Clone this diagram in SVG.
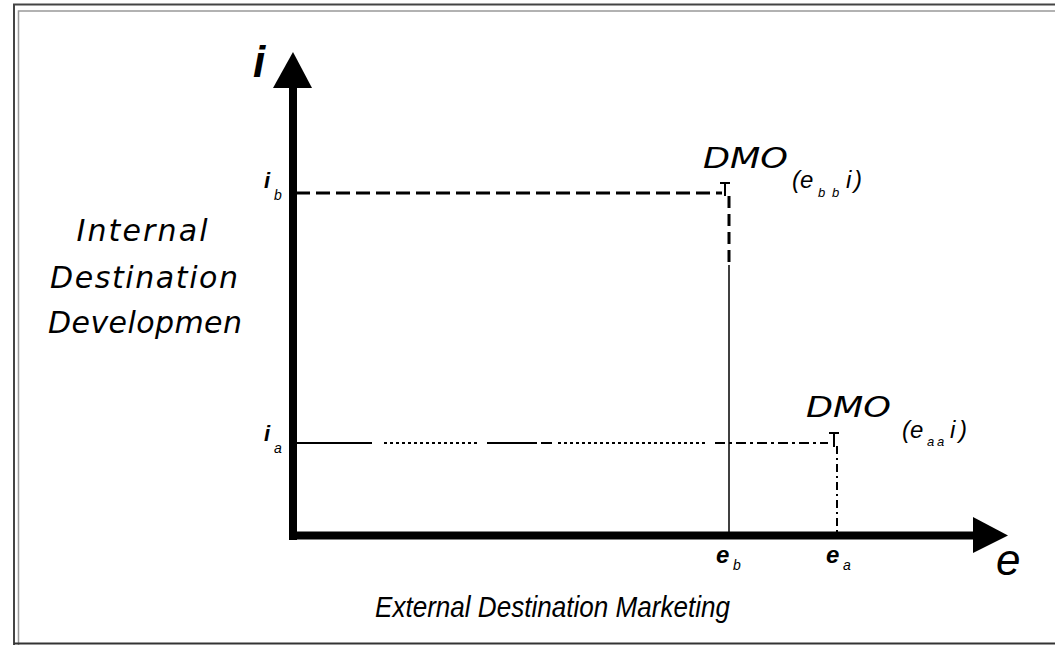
<svg xmlns="http://www.w3.org/2000/svg" width="1055" height="645" viewBox="0 0 1055 645">
<style>
.t{font-family:"Liberation Sans",Arial,sans-serif;font-style:italic;fill:#000}
.d{font-family:"DejaVu Sans","Liberation Sans",sans-serif;font-style:italic;fill:#000}
.ax{stroke:#000;stroke-width:8;fill:none}
.ln{stroke:#000;fill:none}
</style>
<rect width="1055" height="645" fill="#fff"/>
<g id="frame" fill="none">
<path d="M14,645 V4.5 H1055" stroke="#444" stroke-width="2"/>
<path d="M18.5,645 V11 H1055" stroke="#999" stroke-width="1.5"/>
<path d="M14,643.5 H1055" stroke="#333" stroke-width="2"/>
</g>
<g id="connectors">
<line class="ln" x1="296" y1="193" x2="722" y2="193" stroke-width="3" stroke-dasharray="14,6"/>
<line class="ln" x1="729" y1="196" x2="729" y2="265" stroke-width="3" stroke-dasharray="12,6"/>
<line class="ln" x1="729" y1="265" x2="729" y2="536" stroke-width="1.5"/>
<path class="ln" d="M720,183 H730 M725,183 V196" stroke-width="2"/>
<path class="ln" d="M297,443 H372 M487,443 H537 M541,443 H552" stroke-width="2"/>
<path class="ln" d="M384,443 H480 M558,443 H707" stroke-width="2" stroke-dasharray="3,3"/>
<path class="ln" d="M715,443 H828" stroke-width="2" stroke-dasharray="10,4,3,4"/>
<line class="ln" x1="837" y1="446" x2="837" y2="536" stroke-width="2" stroke-dasharray="8,4,2,4"/>
<path class="ln" d="M829,433 H839 M834,433 V447" stroke-width="2"/>
</g>
<g id="axes">
<line class="ax" x1="293" y1="540" x2="293" y2="88"/>
<path d="M273,88 L293,52 L312,88 Z" fill="#000"/>
<line class="ax" x1="289" y1="535.5" x2="974" y2="535.5"/>
<path d="M973,517 L1008,535.5 L973,553 Z" fill="#000"/>
</g>
<g id="labels">
<text class="t" x="253" y="77" font-size="44" font-weight="bold">i</text>
<text class="t" x="996" y="575" font-size="44">e</text>
<text class="t" x="264" y="188" font-size="22" font-weight="bold">i</text><text class="t" x="274" y="200" font-size="14">b</text>
<text class="t" x="264" y="441" font-size="22" font-weight="bold">i</text><text class="t" x="274" y="453" font-size="14">a</text>
<text class="t" x="716" y="563" font-size="24" font-weight="bold">e</text><text class="t" x="733" y="570" font-size="14">b</text>
<text class="t" x="826" y="563" font-size="24" font-weight="bold">e</text><text class="t" x="843" y="570" font-size="14">a</text>
<g id="dmo_b">
<text class="d" x="703" y="168" font-size="29" textLength="85" lengthAdjust="spacingAndGlyphs">DMO</text>
<text class="t" x="792" y="188" font-size="24">(e</text>
<text class="t" x="818" y="197" font-size="13">b</text><text class="t" x="832" y="197" font-size="13">b</text>
<text class="t" x="846" y="188" font-size="24">i</text><text class="t" x="854" y="188" font-size="24">)</text>
</g>
<g id="dmo_a">
<text class="d" x="806" y="417" font-size="29" textLength="85" lengthAdjust="spacingAndGlyphs">DMO</text>
<text class="t" x="902" y="438" font-size="24">(e</text>
<text class="t" x="927" y="446" font-size="13">a</text><text class="t" x="937" y="446" font-size="13">a</text>
<text class="t" x="950" y="438" font-size="24">i</text><text class="t" x="959" y="438" font-size="24">)</text>
</g>
<text class="d" x="142" y="241" font-size="30" text-anchor="middle" textLength="131">Internal</text>
<text class="d" x="144" y="288" font-size="30" text-anchor="middle" textLength="188">Destination</text>
<text class="d" x="145" y="333" font-size="30" text-anchor="middle" textLength="194">Developmen</text>
<text class="t" x="375" y="617" font-size="29" textLength="355" lengthAdjust="spacingAndGlyphs">External Destination Marketing</text>
</g>
</svg>
